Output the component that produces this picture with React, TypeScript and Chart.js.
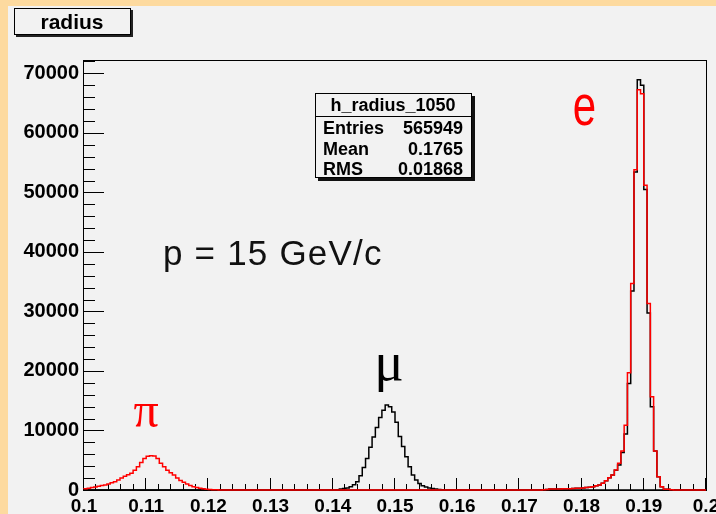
import React, { useEffect, useRef } from "react";
import { Chart, registerables } from "chart.js";

Chart.register(...registerables);

// ---------- data ----------
const X_MIN = 0.1;
const X_MAX = 0.2;
const N_BINS = 190;
const Y_MAX = 72250;

const xTickValues = [0.1, 0.11, 0.12, 0.13, 0.14, 0.15, 0.16, 0.17, 0.18, 0.19, 0.2];
const xTickLabels = ["0.1", "0.11", "0.12", "0.13", "0.14", "0.15", "0.16", "0.17", "0.18", "0.19", "0.2"];
const yTickValues = [0, 10000, 20000, 30000, 40000, 50000, 60000, 70000];
const yTickLabels = ["0", "10000", "20000", "30000", "40000", "50000", "60000", "70000"];

// pion peak (red), first bin index
const pionStart = 0;
const pionCounts = [
  120, 200, 280, 400, 500, 620, 740, 840, 1000, 1200, 1400, 1700, 2000, 2300, 2550,
  2800, 3300, 3900, 4600, 5300, 5650, 5750, 5700, 5300, 4500, 3900, 3300, 2900, 2500,
  2000, 1600, 1300, 1000, 750, 550, 400, 280, 190, 120, 80, 50, 30, 15,
];

// muon peak (black)
const muonStart = 78;
const muonCounts = [
  60, 150, 250, 350, 550, 900, 1400, 2400, 3800, 5300, 7200, 8900, 10500, 12200, 13400,
  14300, 14000, 13100, 11400, 9000, 7300, 5600, 3900, 2500, 1700, 1100, 700, 500, 350,
  250, 150, 80, 40, 20,
];

// electron peak
const electronStart = 141;
const electronRedCounts = [
  40, 80, 150, 170, 170, 180, 190, 200, 220, 250, 280, 300, 340, 400, 480, 560, 700, 840,
  1120, 1570, 2070, 2520, 3360, 4480, 6550, 10900, 19700, 34700, 53800, 67260, 66600,
  51200, 31340, 15660, 6550, 2240, 560, 110, 110, 40,
];
const electronBlackCounts = [
  40, 80, 150, 170, 170, 180, 190, 200, 220, 250, 280, 300, 340, 400, 480, 560, 700, 840,
  1120, 1570, 2070, 2520, 3300, 4200, 6300, 9400, 17900, 33450, 53430, 68950, 68000,
  50480, 29760, 13980, 6550, 2240, 560, 110, 110, 40,
];

const statsTitle = "h_radius_1050";
const statsRows: [string, string][] = [
  ["Entries", "565949"],
  ["Mean", "0.1765"],
  ["RMS", "0.01868"],
];

// ---------- style ----------
const CREAM = "#fdda9f";
const PANEL = "#f2f2f2";
const FONT_SANS = "'Liberation Sans', Arial, Helvetica, sans-serif";
const FONT_SERIF = "'Liberation Serif', 'Times New Roman', serif";

function buildCounts(parts: [number, number[]][]): number[] {
  const arr: number[] = new Array(N_BINS).fill(0);
  for (const [start, vals] of parts) {
    vals.forEach((v, k) => {
      arr[start + k] += v;
    });
  }
  return arr;
}

function toPoints(counts: number[]) {
  const w = (X_MAX - X_MIN) / N_BINS;
  const pts = counts.map((c, i) => ({ x: X_MIN + i * w, y: c }));
  pts.push({ x: X_MAX, y: counts[counts.length - 1] });
  return pts;
}

const redCounts = buildCounts([
  [pionStart, pionCounts],
  [electronStart, electronRedCounts],
]);
const blackCounts = buildCounts([
  [muonStart, muonCounts],
  [electronStart, electronBlackCounts],
]);

const rootPlugin = {
  id: "rootStyle",
  beforeDraw(chart: any) {
    const ctx = chart.ctx;
    ctx.save();
    ctx.fillStyle = CREAM;
    ctx.fillRect(0, 0, chart.width, chart.height);
    ctx.fillStyle = PANEL;
    ctx.fillRect(8, 6, chart.width - 8, chart.height - 6);
    ctx.restore();
  },
  beforeDatasetsDraw(chart: any) {
    const { ctx, chartArea: a, scales } = chart;
    const x = scales.x;
    const y = scales.y;
    ctx.save();
    ctx.strokeStyle = "#000";
    ctx.lineWidth = 1;
    ctx.strokeRect(Math.round(a.left) - 0.5, Math.round(a.top) + 0.5, Math.round(a.right - a.left) + 1, Math.round(a.bottom - a.top));
    ctx.beginPath();
    for (let v = 0; v <= Y_MAX; v += 2000) {
      const py = Math.round(y.getPixelForValue(v)) + 0.5;
      const len = v % 10000 === 0 ? 20 : 11;
      ctx.moveTo(a.left, py);
      ctx.lineTo(a.left + len, py);
    }
    for (let k = 0; k <= 50; k++) {
      const v = X_MIN + k * 0.002;
      const px = Math.round(x.getPixelForValue(v)) - 0.5;
      const len = k % 5 === 0 ? 12 : 6;
      ctx.moveTo(px, a.bottom);
      ctx.lineTo(px, a.bottom - len);
    }
    ctx.stroke();
    ctx.lineWidth = 1.5;
    ctx.beginPath();
    ctx.moveTo(a.left, a.bottom);
    ctx.lineTo(a.right, a.bottom);
    ctx.stroke();
    ctx.restore();
  },
  afterDraw(chart: any) {
    const ctx = chart.ctx;
    ctx.save();
    // title box
    ctx.fillStyle = "#222";
    ctx.fillRect(16, 10, 117, 27);
    ctx.fillStyle = PANEL;
    ctx.fillRect(14, 8, 117, 27);
    ctx.strokeStyle = "#000";
    ctx.lineWidth = 1;
    ctx.strokeRect(14.5, 8.5, 116, 26);
    ctx.fillStyle = "#000";
    ctx.font = `bold 21px ${FONT_SANS}`;
    ctx.textAlign = "center";
    ctx.textBaseline = "alphabetic";
    ctx.fillText("radius", 72, 29);

    // stats box
    ctx.fillStyle = "#111";
    ctx.fillRect(318, 96, 157, 85);
    ctx.fillStyle = PANEL;
    ctx.fillRect(315, 93, 157, 85);
    ctx.strokeStyle = "#000";
    ctx.strokeRect(315.5, 93.5, 156, 84);
    ctx.beginPath();
    ctx.moveTo(315, 116.5);
    ctx.lineTo(472, 116.5);
    ctx.stroke();
    ctx.fillStyle = "#000";
    ctx.font = `bold 18px ${FONT_SANS}`;
    ctx.textAlign = "center";
    ctx.fillText(statsTitle, 393, 111);
    const rowY = [134, 155, 175];
    statsRows.forEach(([k, v], i) => {
      ctx.textAlign = "left";
      ctx.fillText(k, 323, rowY[i]);
      ctx.textAlign = "right";
      ctx.fillText(v, 463, rowY[i]);
    });

    // momentum label
    ctx.fillStyle = "#111";
    ctx.font = `35px ${FONT_SANS}`;
    ctx.textAlign = "left";
    (ctx as any).letterSpacing = "1.2px";
    ctx.fillText("p = 15 GeV/c", 163, 265);
    (ctx as any).letterSpacing = "0px";

    // particle labels
    ctx.textAlign = "center";
    ctx.fillStyle = "#000";
    ctx.font = `55px ${FONT_SERIF}`;
    ctx.fillText("\u03bc", 389, 380);

    ctx.fillStyle = "#ff0000";
    ctx.font = `50px ${FONT_SERIF}`;
    ctx.fillText("\u03c0", 146, 427);

    ctx.save();
    ctx.translate(584.5, 125);
    ctx.scale(1, 1.36);
    ctx.font = `42px ${FONT_SANS}`;
    ctx.fillText("e", 0, 0);
    ctx.restore();

    ctx.restore();
  },
};

export default function App() {
  const canvasRef = useRef<HTMLCanvasElement | null>(null);

  useEffect(() => {
    const canvas = canvasRef.current;
    if (!canvas) return;
    const tickFont = { family: FONT_SANS, weight: "bold" as const };
    const chart = new Chart(canvas, {
      type: "line",
      data: {
        datasets: [
          {
            label: "red",
            data: toPoints(redCounts),
            borderColor: "#ff0000",
            borderWidth: 1.5,
            stepped: "after",
            pointRadius: 0,
            fill: false,
            clip: 4,
          } as any,
          {
            label: "black",
            data: toPoints(blackCounts),
            borderColor: "#000000",
            borderWidth: 1.5,
            stepped: "after",
            pointRadius: 0,
            fill: false,
            clip: 4,
          } as any,
        ],
      },
      options: {
        animation: false,
        responsive: false,
        devicePixelRatio: 1,
        layout: { padding: { left: 0, right: 34, top: 60, bottom: 0 } },
        plugins: { legend: { display: false }, tooltip: { enabled: false } },
        elements: { point: { radius: 0 } },
        scales: {
          x: {
            type: "linear",
            min: X_MIN,
            max: X_MAX,
            grid: { display: false, drawTicks: false },
            border: { display: false },
            afterBuildTicks: (s: any) => {
              s.ticks = xTickValues.map((v) => ({ value: v }));
            },
            afterFit: (s: any) => {
              s.height = 24;
            },
            ticks: {
              autoSkip: false,
              maxRotation: 0,
              minRotation: 0,
              padding: 5,
              color: "#000",
              font: { ...tickFont, size: 19 },
              callback: (_v: any, i: number) => xTickLabels[i],
            },
          },
          y: {
            type: "linear",
            min: 0,
            max: Y_MAX,
            grid: { display: false, drawTicks: false },
            border: { display: false },
            afterBuildTicks: (s: any) => {
              s.ticks = yTickValues.map((v) => ({ value: v }));
            },
            afterFit: (s: any) => {
              s.width = 84;
            },
            ticks: {
              autoSkip: false,
              padding: 5,
              color: "#000",
              font: { ...tickFont, size: 20 },
              callback: (_v: any, i: number) => yTickLabels[i],
            },
          },
        },
      } as any,
      plugins: [rootPlugin],
    });
    return () => chart.destroy();
  }, []);

  return (
    <div
      style={{
        position: "fixed",
        left: 0,
        top: 0,
        width: 716,
        height: 514,
        overflow: "hidden",
        background: CREAM,
      }}
    >
      <canvas
        ref={canvasRef}
        width={740}
        height={514}
        style={{ display: "block", width: 740, height: 514 }}
      />
    </div>
  );
}
